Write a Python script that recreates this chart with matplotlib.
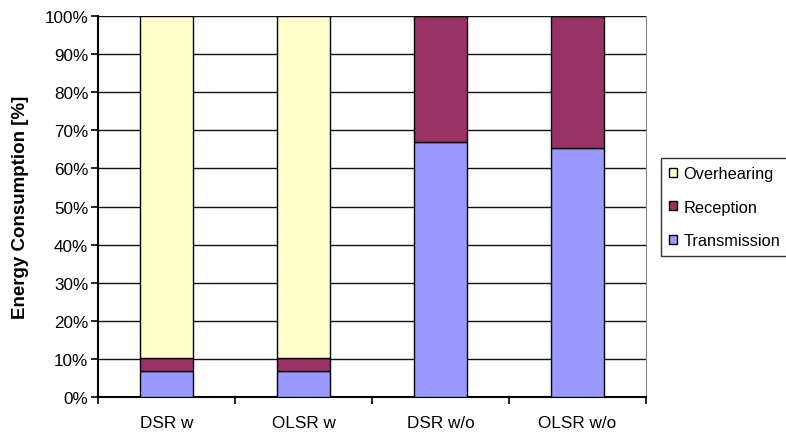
import matplotlib
matplotlib.use("Agg")
import matplotlib.pyplot as plt
import numpy as np
from matplotlib.patches import Patch

plt.rcParams['font.family'] = ['Liberation Sans', 'DejaVu Sans']

categories = ["DSR w", "OLSR w", "DSR w/o", "OLSR w/o"]
transmission = [6.7, 6.8, 66.9, 65.3]
reception = [3.4, 3.3, 33.1, 34.7]
overhearing = [89.9, 89.9, 0.0, 0.0]
series_names = ["Transmission", "Reception", "Overhearing"]
colors = ["#9999FF", "#993366", "#FFFFCC"]
yticks = list(range(0, 101, 10))

fig = plt.figure(figsize=(7.86, 4.35), dpi=100)
ax = fig.add_axes([98/786, 1-397.7/435, (646-98)/786, (397.7-17.3)/435])

x = np.arange(len(categories))
bottom = np.zeros(len(categories))
for vals, c in zip([transmission, reception, overhearing], colors):
    v = np.array(vals)
    ax.bar(x, v, width=0.385, bottom=bottom, color=c, edgecolor="black", linewidth=1.0, zorder=3)
    bottom += v

ax.set_xlim(-0.5, len(categories) - 0.5)
ax.set_ylim(0, 100)
ax.set_yticks(yticks)
ax.set_yticklabels([f"{t}%" for t in yticks], fontsize=12.3)
ax.set_xticks(np.arange(-0.5, len(categories), 1.0), minor=False)
ax.set_xticklabels([])
ax.set_xticks(x, minor=True)
ax.set_xticklabels(categories, minor=True, fontsize=12.3)
ax.tick_params(axis='x', which='minor', length=0, pad=13)
ax.tick_params(axis='x', which='major', length=5, width=1.2, direction='out', color='black')
ax.tick_params(axis='y', length=5, width=1.2, direction='out', pad=2)
ax.yaxis.grid(True, color="#111111", linewidth=1.0, zorder=0)
ax.set_axisbelow(True)
ax.spines['top'].set_visible(False)
ax.spines['right'].set_color('#888888')
ax.spines['left'].set_linewidth(1.5)
ax.spines['bottom'].set_linewidth(1.5)
ax.set_ylabel("Energy Consumption [%]", fontsize=13.5, fontweight='bold', labelpad=11)

handles = [Patch(facecolor=colors[2], edgecolor='black', label=series_names[2]),
           Patch(facecolor=colors[1], edgecolor='black', label=series_names[1]),
           Patch(facecolor=colors[0], edgecolor='black', label=series_names[0])]
leg = fig.legend(handles=handles, loc='upper left', bbox_to_anchor=(661/786, 1-159/435),
                 fontsize=11.8, frameon=True, fancybox=False, edgecolor='black',
                 handlelength=0.47, handleheight=0.47, handletextpad=0.4,
                 labelspacing=1.12, borderpad=0.5, borderaxespad=0)
leg.get_frame().set_linewidth(1.0)

fig.savefig("out.png", dpi=100)
